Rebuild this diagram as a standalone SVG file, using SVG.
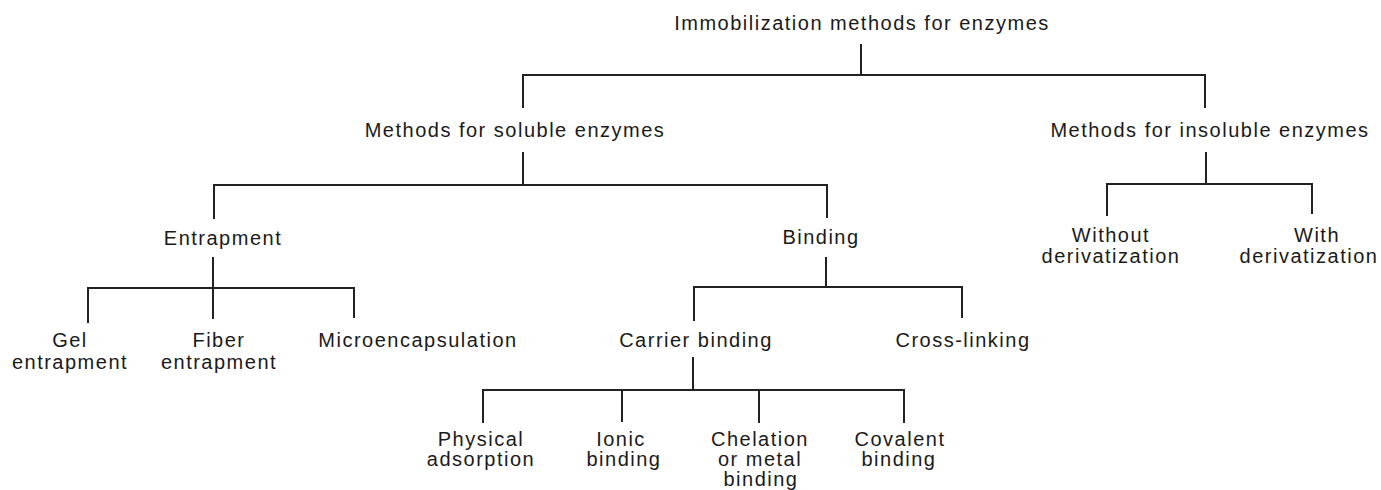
<svg xmlns="http://www.w3.org/2000/svg" width="1381" height="490" viewBox="0 0 1381 490">
<style>
text{font-family:"Liberation Sans",Arial,sans-serif;font-size:20px;letter-spacing:1.5px;fill:#1a1a1a;text-anchor:middle}
.c line{stroke:#222;stroke-width:2;stroke-linecap:square}
</style>
<rect width="1381" height="490" fill="#fff"/>
<g class="c" id="connectors">
<line x1="861" y1="45" x2="861" y2="75"/>
<line x1="523" y1="75" x2="1205" y2="75"/>
<line x1="523" y1="75" x2="523" y2="107"/>
<line x1="1205" y1="75" x2="1205" y2="107"/>
<line x1="523" y1="153" x2="523" y2="185"/>
<line x1="214" y1="185" x2="827" y2="185"/>
<line x1="214" y1="185" x2="214" y2="218"/>
<line x1="827" y1="185" x2="827" y2="217"/>
<line x1="1206" y1="153" x2="1206" y2="184"/>
<line x1="1107" y1="184" x2="1312" y2="184"/>
<line x1="1107" y1="184" x2="1107" y2="215"/>
<line x1="1312" y1="184" x2="1312" y2="213"/>
<line x1="213" y1="258" x2="213" y2="288"/>
<line x1="88" y1="288" x2="354" y2="288"/>
<line x1="88" y1="288" x2="88" y2="322"/>
<line x1="213" y1="288" x2="213" y2="318"/>
<line x1="354" y1="288" x2="354" y2="317"/>
<line x1="826" y1="258" x2="826" y2="287"/>
<line x1="694" y1="287" x2="962" y2="287"/>
<line x1="694" y1="287" x2="694" y2="320"/>
<line x1="962" y1="287" x2="962" y2="317"/>
<line x1="693" y1="358" x2="693" y2="390"/>
<line x1="483" y1="390" x2="904" y2="390"/>
<line x1="483" y1="390" x2="483" y2="422"/>
<line x1="622" y1="390" x2="622" y2="421"/>
<line x1="759" y1="390" x2="759" y2="422"/>
<line x1="904" y1="390" x2="904" y2="422"/>
</g>
<g id="root"><text x="862" y="30">Immobilization methods for enzymes</text></g>
<g id="soluble"><text x="515" y="137">Methods for soluble enzymes</text></g>
<g id="insoluble"><text x="1210" y="137">Methods for insoluble enzymes</text></g>
<g id="without"><text x="1111" y="242">Without</text><text x="1111" y="263">derivatization</text></g>
<g id="with"><text x="1317" y="242">With</text><text x="1309" y="263">derivatization</text></g>
<g id="entrapment"><text x="223" y="245">Entrapment</text></g>
<g id="binding"><text x="821" y="244">Binding</text></g>
<g id="gel"><text x="70" y="347">Gel</text><text x="70" y="369">entrapment</text></g>
<g id="fiber"><text x="219" y="347">Fiber</text><text x="219" y="369">entrapment</text></g>
<g id="micro"><text x="418" y="347">Microencapsulation</text></g>
<g id="carrier"><text x="696" y="347">Carrier binding</text></g>
<g id="crosslink"><text x="963" y="347">Cross-linking</text></g>
<g id="physical"><text x="481" y="446">Physical</text><text x="481" y="466">adsorption</text></g>
<g id="ionic"><text x="621" y="446">Ionic</text><text x="624" y="466">binding</text></g>
<g id="chelation"><text x="760" y="446">Chelation</text><text x="760" y="466">or metal</text><text x="761" y="486">binding</text></g>
<g id="covalent"><text x="900" y="446">Covalent</text><text x="899" y="466">binding</text></g>
</svg>
